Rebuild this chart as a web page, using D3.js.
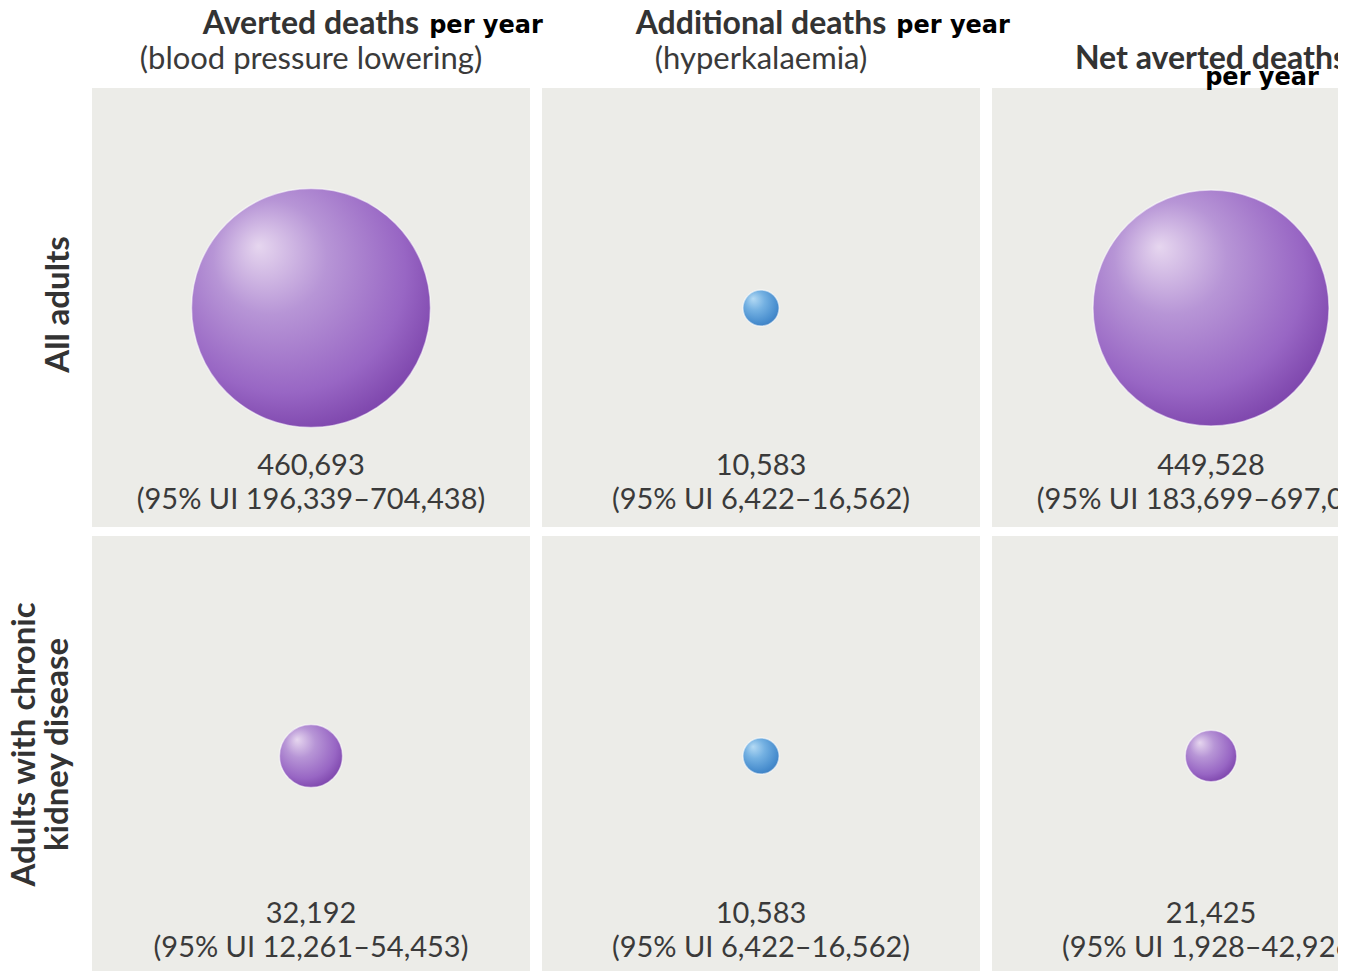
<!DOCTYPE html>
<html>
<head>
<meta charset="utf-8">
<script src="https://cdn.jsdelivr.net/npm/d3@7"></script>
<style>
  html, body { margin: 0; padding: 0; background: #ffffff; }
  svg { display: block; }
</style>
</head>
<body>
<script>
// ---- data ----
const columnTitles = ["Averted deaths", "Additional deaths", "Net averted deaths"];
const columnSubtitles = ["(blood pressure lowering)", "(hyperkalaemia)", ""];
const perYearLabel = "per year";
const rowLabels = [["All adults"], ["Adults with chronic", "kidney disease"]];
const columnKinds = ["averted", "additional", "net"];

const allAdultsValues = [460693, 10583, 449528];
const allAdultsLower  = [196339, 6422, 183699];
const allAdultsUpper  = [704438, 16562, 697051];

const ckdValues = [32192, 10583, 21425];
const ckdLower  = [12261, 6422, 1928];
const ckdUpper  = [54453, 16562, 42926];

// ---- layout ----
const W = 1354, H = 971;
const clipRight = 1338;
const panelW = 438;
const panelH = [439, 435];

const fmt = d3.format(",");
const cells = [];
[[allAdultsValues, allAdultsLower, allAdultsUpper], [ckdValues, ckdLower, ckdUpper]].forEach((arr, r) => {
  arr[0].forEach((v, c) => cells.push({ row: r, col: c, value: v, lo: arr[1][c], hi: arr[2][c], kind: columnKinds[c] }));
});

const x = d3.scaleLinear().domain([0, 1]).range([92, 542]);
const y = d3.scaleLinear().domain([0, 1]).range([88, 536]);
const rScale = d3.scaleSqrt().domain([0, d3.max(allAdultsValues)]).range([0, 119.5]);

const svg = d3.select("body").append("svg").attr("width", W).attr("height", H);
const defs = svg.append("defs");
defs.append("clipPath").attr("id", "clip").append("rect").attr("x", 0).attr("y", 0).attr("width", clipRight).attr("height", H);

function grad(id, stops) {
  const g = defs.append("radialGradient").attr("id", id)
    .attr("cx", "42%").attr("cy", "38%").attr("r", "68%")
    .attr("fx", "28%").attr("fy", "24%");
  stops.forEach(s => g.append("stop").attr("offset", s[0]).attr("stop-color", s[1]));
}
grad("gPurple", [["0%", "#e6d6ef"], ["35%", "#b795d6"], ["75%", "#9866c4"], ["100%", "#7940a8"]]);
grad("gBlue", [["0%", "#b4daf4"], ["40%", "#74b1e2"], ["80%", "#4a8fcf"], ["100%", "#3a7cc0"]]);

const root = svg.append("g").attr("clip-path", "url(#clip)");

// panels
root.selectAll("rect.panel").data(cells).join("rect")
  .attr("class", "panel")
  .attr("x", d => x(d.col)).attr("y", d => y(d.row))
  .attr("width", panelW).attr("height", d => panelH[d.row])
  .attr("fill", "#ecece8");

// bubbles
root.selectAll("circle.bubble").data(cells).join("circle")
  .attr("class", "bubble")
  .attr("cx", d => x(d.col) + panelW / 2)
  .attr("cy", d => y(d.row) + 220)
  .attr("r", d => rScale(d.value))
  .attr("fill", d => d.kind === "additional" ? "url(#gBlue)" : "url(#gPurple)")
  .attr("stroke", "#ffffff").attr("stroke-opacity", 0.55).attr("stroke-width", 1.5);

const textFont = "Lato, 'Open Sans', sans-serif";
// value labels
root.selectAll("text.val").data(cells).join("text")
  .attr("class", "val")
  .attr("x", d => x(d.col) + panelW / 2)
  .attr("y", d => y(d.row) + 387)
  .attr("text-anchor", "middle")
  .attr("font-family", textFont).attr("font-size", 29).attr("fill", "#3a3a3a")
  .text(d => fmt(d.value));

root.selectAll("text.ui").data(cells).join("text")
  .attr("class", "ui")
  .attr("x", d => x(d.col) + panelW / 2)
  .attr("y", d => y(d.row) + 421)
  .attr("text-anchor", "middle")
  .attr("font-family", textFont).attr("font-size", 29).attr("fill", "#3a3a3a")
  .text(d => `(95% UI ${fmt(d.lo)}\u2013${fmt(d.hi)})`);

// column headers
columnTitles.forEach((t, c) => {
  const cx = x(c) + panelW / 2;
  const hasSub = columnSubtitles[c] !== "";
  const title = root.append("text")
    .attr("x", hasSub ? cx : cx)
    .attr("y", hasSub ? 34 : 69)
    .attr("text-anchor", "middle")
    .attr("font-family", textFont).attr("font-weight", 700).attr("font-size", 32)
    .attr("fill", "#333333").text(t);
  if (hasSub) {
    root.append("text").attr("x", cx).attr("y", 69).attr("text-anchor", "middle")
      .attr("font-family", textFont).attr("font-size", 31).attr("fill", "#3a3a3a")
      .text(columnSubtitles[c]);
  }
  const bb = title.node().getBBox();
  root.append("text")
    .attr("x", hasSub ? bb.x + bb.width + 10 : 1262)
    .attr("y", hasSub ? 33 : 85)
    .attr("text-anchor", hasSub ? "start" : "middle")
    .attr("font-family", "'DejaVu Sans', sans-serif").attr("font-weight", 700).attr("font-size", 24)
    .attr("fill", "#000000").text(perYearLabel);
});

// row labels
const rowCenters = [304.5, 744.5];
rowLabels.forEach((lines, r) => {
  const baseX = lines.length === 1 ? [69] : [35, 68];
  lines.forEach((ln, i) => {
    svg.append("text")
      .attr("transform", `translate(${baseX[i]},${rowCenters[r]}) rotate(-90)`)
      .attr("text-anchor", "middle")
      .attr("font-family", textFont).attr("font-weight", 700).attr("font-size", 33)
      .attr("fill", "#333333").text(ln);
  });
});
</script>
</body>
</html>
